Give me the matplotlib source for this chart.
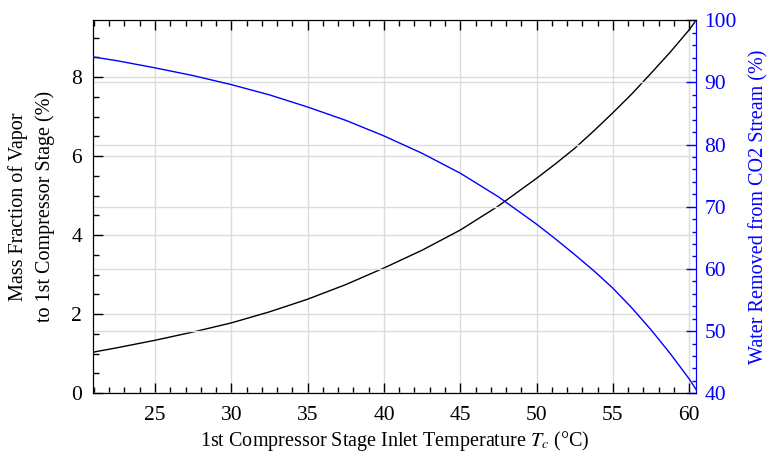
import matplotlib
matplotlib.use('Agg')
import matplotlib.pyplot as plt
import numpy as np

plt.rcParams['font.family'] = ['Liberation Serif', 'DejaVu Serif']
plt.rcParams['mathtext.fontset'] = 'stix'

# inlet temperature (degC)
temp = [20.95, 22.5, 25, 27.5, 30, 32.5, 35, 37.5, 40, 42.5, 45, 47.5, 50, 51.25, 52.5, 53.75,
        55, 56.25, 57.5, 58.75, 60, 60.45]
# mass fraction of vapor to 1st stage (%)
vapor = [1.04, 1.15, 1.34, 1.55, 1.78, 2.06, 2.38, 2.75, 3.17, 3.62, 4.13, 4.74, 5.44, 5.81, 6.2, 6.64,
         7.1, 7.58, 8.1, 8.63, 9.2, 9.44]
# water removed from CO2 stream (%)
water = [94.1, 93.5, 92.35, 91.1, 89.65, 88.0, 86.05, 83.9, 81.4, 78.6, 75.4, 71.6, 67.2, 64.8, 62.3, 59.7,
         56.9, 53.7, 50.2, 46.4, 42.3, 40.6]

blue = '#0000ff'

fig, ax = plt.subplots(figsize=(7.7, 4.61), dpi=100)
fig.subplots_adjust(left=0.121, right=0.904, top=0.956, bottom=0.147)

ax.set_axisbelow(True)
ax.grid(True, which='major', color='#dcdcdc', lw=1.0)
ax.plot(temp, vapor, color='k', lw=1.0, zorder=3)
ax.set_xlim(temp[0], temp[-1])
ax.set_ylim(0, vapor[-1])
ax.set_xticks(np.arange(25, 61, 5))
ax.set_xticks(np.arange(21, 61, 1), minor=True)
ax.set_yticks([0, 2, 4, 6, 8])
ax.set_yticks(np.arange(0, 9.5, 0.5), minor=True)
ax.tick_params(which='both', direction='in', top=True, labelsize=15.5, width=1)
ax.tick_params(which='major', length=7)
ax.tick_params(which='minor', length=4)
ax.tick_params(axis='x', pad=9)
ax.tick_params(axis='y', pad=8)
ax.set_xlabel('1st Compressor Stage Inlet Temperature $T_c$ (°C)', fontsize=14.5, labelpad=3)
ax.set_ylabel('Mass Fraction of Vapor\nto 1st Compressor Stage (%)', fontsize=14.5,
              labelpad=12, linespacing=1.45)

ax2 = ax.twinx()
ax2.set_axisbelow(True)
ax2.grid(True, which='major', axis='y', color='#dcdcdc', lw=1.0)
ax2.plot(temp, water, color=blue, lw=1.0, zorder=3)
ax2.set_ylim(40, 100)
ax2.set_yticks(np.arange(40, 101, 10))
ax2.set_yticks(np.arange(40, 101, 2), minor=True)
ax2.tick_params(which='both', direction='in', colors=blue, labelsize=15.5, width=1)
ax2.tick_params(which='major', length=7, pad=6)
ax2.tick_params(which='minor', length=3)
ax2.spines['right'].set_color(blue)
ax2.set_ylabel('Water Removed from CO2 Stream (%)', color=blue, fontsize=14.5, labelpad=9)

fig.savefig('out.png', dpi=100)
